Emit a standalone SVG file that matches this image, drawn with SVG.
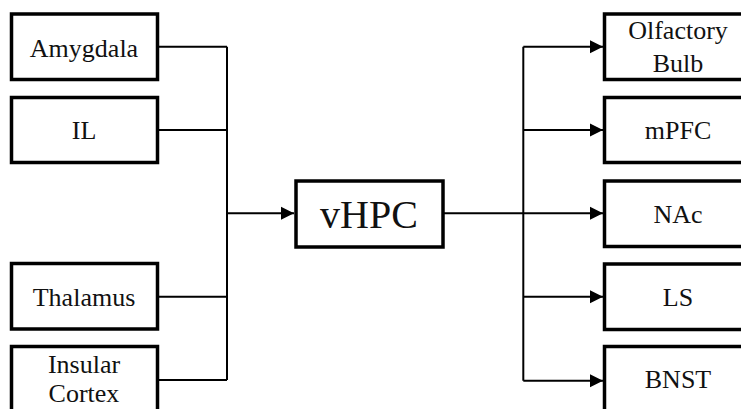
<svg xmlns="http://www.w3.org/2000/svg" width="741" height="409" viewBox="0 0 741 409">
<defs>
<style>
.box{fill:#fff;stroke:#000;stroke-width:3.5}
.t{font-family:"Liberation Serif","Times New Roman",serif;font-size:26px;fill:#111;text-anchor:middle}
.big{font-size:40px}
.c{fill:none;stroke:#000;stroke-width:2}
</style>
<marker id="ah" markerWidth="14" markerHeight="14" refX="13" refY="7" orient="auto" markerUnits="userSpaceOnUse">
<path d="M0,0.5 L13,7 L0,13.5 Z" fill="#000"/>
</marker>
</defs>
<rect width="741" height="409" fill="#fff"/>
<g id="connectors">
<path class="c" d="M158,46.7 H227 M158,130 H227 M158,296.7 H227 M158,380 H227 M227,46.7 V380"/>
<path class="c" d="M227,213.3 H294" marker-end="url(#ah)"/>
<path class="c" d="M444,213.3 H603" marker-end="url(#ah)"/>
<path class="c" d="M523.3,46.7 V380.7"/>
<path class="c" d="M523.3,46.7 H603" marker-end="url(#ah)"/>
<path class="c" d="M523.3,130 H603" marker-end="url(#ah)"/>
<path class="c" d="M523.3,296.7 H603" marker-end="url(#ah)"/>
<path class="c" d="M523.3,380.7 H603" marker-end="url(#ah)"/>
</g>
<g id="amygdala"><rect class="box" x="11.5" y="14" width="146" height="65.5"/><text class="t" x="84" y="56.5">Amygdala</text></g>
<g id="il"><rect class="box" x="11.5" y="97.5" width="146" height="65"/><text class="t" x="84" y="139">IL</text></g>
<g id="thalamus"><rect class="box" x="11.5" y="263.5" width="146" height="65.5"/><text class="t" x="84" y="306">Thalamus</text></g>
<g id="insular"><rect class="box" x="11.5" y="346.5" width="146" height="80"/><text class="t" x="84" y="373">Insular</text><text class="t" x="84" y="402">Cortex</text></g>
<g id="vhpc"><rect class="box" x="296" y="181" width="147" height="66"/><text class="t big" x="369" y="228">vHPC</text></g>
<g id="olfactory"><rect class="box" x="604.5" y="14" width="200" height="65.5"/><text class="t" x="678" y="38.5">Olfactory</text><text class="t" x="678" y="71.5">Bulb</text></g>
<g id="mpfc"><rect class="box" x="604.5" y="97.5" width="200" height="65"/><text class="t" x="678" y="139">mPFC</text></g>
<g id="nac"><rect class="box" x="604.5" y="181" width="200" height="65.5"/><text class="t" x="678" y="223">NAc</text></g>
<g id="ls"><rect class="box" x="604.5" y="264" width="200" height="65.5"/><text class="t" x="678" y="306">LS</text></g>
<g id="bnst"><rect class="box" x="604.5" y="346.5" width="200" height="80"/><text class="t" x="678" y="388">BNST</text></g>
</svg>
